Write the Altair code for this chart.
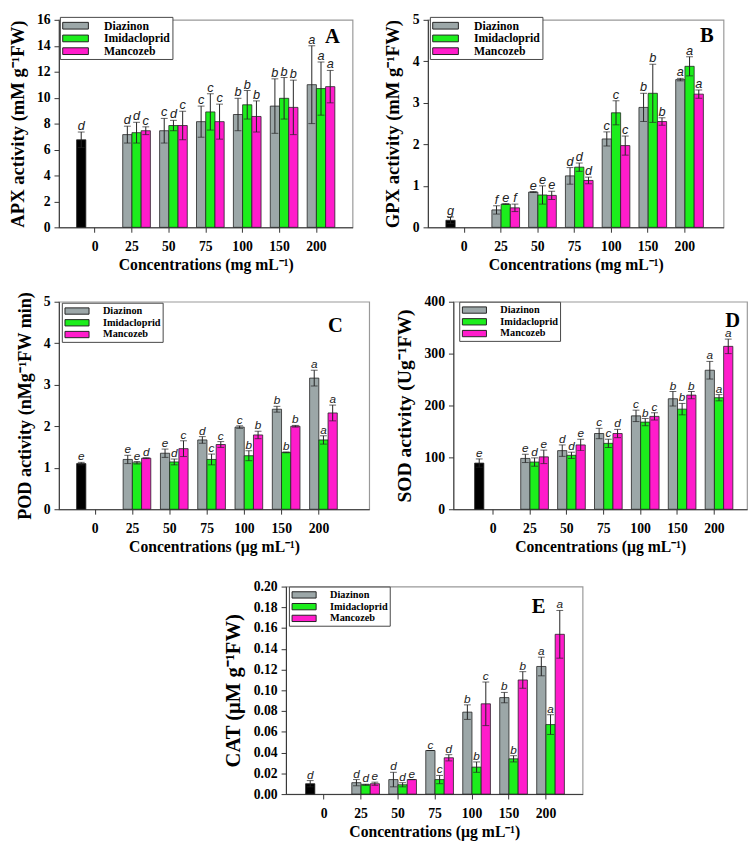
import altair as alt
import pandas as pd

categories = ["0", "25", "50", "75", "100", "150", "200"]
doses = ["25", "50", "75", "100", "150", "200"]
series = ["Control", "Diazinon", "Imidacloprid", "Mancozeb"]
legend_series = ["Diazinon", "Imidacloprid", "Mancozeb"]
colors = ["#000000", "#9ca7a8", "#1cee1c", "#ff1ccb"]

# ---- Panel A: APX ----
apx_control = [6.75, 0.6, "d"]
apx_diazinon = [7.15, 7.45, 8.15, 8.7, 9.35, 11.0]
apx_diazinon_err = [0.65, 0.95, 1.2, 1.25, 2.1, 3.0]
apx_diazinon_let = ["d", "c", "c", "b", "b", "a"]
apx_imidacloprid = [7.3, 7.85, 8.9, 9.45, 9.95, 10.7]
apx_imidacloprid_err = [0.8, 0.4, 1.4, 1.1, 1.6, 2.05]
apx_imidacloprid_let = ["d", "d", "c", "b", "b", "a"]
apx_mancozeb = [7.45, 7.85, 8.15, 8.55, 9.25, 10.85]
apx_mancozeb_err = [0.3, 1.1, 1.35, 1.2, 2.1, 1.25]
apx_mancozeb_let = ["c", "c", "c", "b", "b", "a"]

# ---- Panel B: GPX ----
gpx_control = [0.17, 0.08, "g"]
gpx_diazinon = [0.42, 0.85, 1.24, 2.13, 2.89, 3.56]
gpx_diazinon_err = [0.1, 0.01, 0.2, 0.17, 0.34, 0.03]
gpx_diazinon_let = ["f", "e", "d", "c", "b", "a"]
gpx_imidacloprid = [0.56, 0.78, 1.45, 2.76, 3.23, 3.88]
gpx_imidacloprid_err = [0.01, 0.22, 0.1, 0.29, 0.7, 0.23]
gpx_imidacloprid_let = ["e", "e", "d", "c", "b", "a"]
gpx_mancozeb = [0.47, 0.77, 1.13, 1.97, 2.55, 3.21]
gpx_mancozeb_err = [0.09, 0.1, 0.08, 0.23, 0.09, 0.1]
gpx_mancozeb_let = ["f", "e", "d", "c", "b", "a"]

# ---- Panel C: POD ----
pod_control = [1.1, 0.03, "e"]
pod_diazinon = [1.2, 1.35, 1.67, 1.98, 2.41, 3.16]
pod_diazinon_err = [0.1, 0.1, 0.08, 0.03, 0.07, 0.19]
pod_diazinon_let = ["e", "e", "d", "c", "b", "a"]
pod_imidacloprid = [1.12, 1.14, 1.2, 1.29, 1.37, 1.67]
pod_imidacloprid_err = [0.03, 0.07, 0.13, 0.12, 0.01, 0.1]
pod_imidacloprid_let = ["e", "d", "c", "b", "b", "a"]
pod_mancozeb = [1.23, 1.46, 1.56, 1.79, 2.0, 2.32]
pod_mancozeb_err = [0.01, 0.19, 0.07, 0.09, 0.02, 0.19]
pod_mancozeb_let = ["d", "c", "c", "b", "b", "a"]

# ---- Panel D: SOD ----
sod_control = [89, 8, "e"]
sod_diazinon = [98, 113, 146, 180, 213, 268]
sod_diazinon_err = [8, 11, 10, 11, 14, 17]
sod_diazinon_let = ["e", "d", "c", "c", "b", "a"]
sod_imidacloprid = [91, 104, 127, 168, 193, 215]
sod_imidacloprid_err = [8, 6, 8, 7, 11, 6]
sod_imidacloprid_let = ["d", "d", "c", "b", "b", "a"]
sod_mancozeb = [101, 124, 146, 179, 220, 314]
sod_mancozeb_err = [13, 11, 8, 7, 7, 14]
sod_mancozeb_let = ["e", "e", "d", "c", "b", "a"]

# ---- Panel E: CAT ----
cat_control = [0.010, 0.003, "d"]
cat_diazinon = [0.011, 0.014, 0.042, 0.079, 0.093, 0.123]
cat_diazinon_err = [0.003, 0.007, 0.0, 0.007, 0.005, 0.009]
cat_diazinon_let = ["d", "d", "c", "b", "b", "a"]
cat_imidacloprid = [0.009, 0.009, 0.014, 0.026, 0.034, 0.067]
cat_imidacloprid_err = [0.0005, 0.002, 0.004, 0.005, 0.003, 0.0095]
cat_imidacloprid_let = ["d", "d", "c", "b", "b", "a"]
cat_mancozeb = [0.010, 0.014, 0.035, 0.087, 0.110, 0.154]
cat_mancozeb_err = [0.0015, 0.0, 0.003, 0.021, 0.008, 0.023]
cat_mancozeb_let = ["e", "e", "d", "c", "b", "a"]

SERIF = "Liberation Serif"
SANS = "Liberation Sans"
SWATCH = "M-2.1,-0.55L2.1,-0.55L2.1,0.55L-2.1,0.55Z"


def build_df(ctrl, groups):
    rows = [dict(conc="0", series="Control", value=ctrl[0], err=ctrl[1], letter=ctrl[2])]
    for name, (vals, errs, lets) in zip(legend_series, groups):
        for c, v, e, l in zip(doses, vals, errs, lets):
            rows.append(dict(conc=c, series=name, value=v, err=e, letter=l))
    df = pd.DataFrame(rows)
    df["lo"] = df["value"] - df["err"]
    df["hi"] = df["value"] + df["err"]
    return df


def panel(df, s):
    x = alt.X(
        "conc:N", sort=categories,
        scale=alt.Scale(domain=categories, paddingInner=0, paddingOuter=s["po"], align=s["align"]),
        axis=alt.Axis(title=s["xtitle"], labelAngle=0, labelFont=SERIF, labelFontWeight="bold",
                      labelFontSize=14, labelColor="black", labelPadding=8, tickSize=5,
                      tickColor="#333", domainColor="#333", titleFont=SERIF, titleFontWeight="bold",
                      titleFontSize=16, titlePadding=3, titleColor="black"),
    )
    xo = alt.XOffset("series:N", sort=series,
                     scale=alt.Scale(domain=series, paddingInner=0, paddingOuter=0))
    ysc = alt.Scale(domain=[0, s["ymax"]], nice=False)
    yaxis = alt.Axis(title=s["ytitle"], values=s["yvals"], format=s["yfmt"], grid=False,
                     labelFont=SERIF, labelFontWeight="bold", labelFontSize=14, labelColor="black",
                     labelPadding=4, tickSize=5, tickColor="#333", domainColor="#333",
                     titleFont=SERIF, titleFontWeight="bold", titleFontSize=s["ytfs"],
                     titleColor="black", titlePadding=s["ytp"])

    def Y(field):
        return alt.Y(field, scale=ysc, axis=yaxis, title=s["ytitle"])

    base = alt.Chart(df).encode(x=x, xOffset=xo)
    bars = base.mark_bar(stroke="#222", strokeWidth=0.8).encode(
        y=Y("value:Q"),
        color=alt.Color("series:N", scale=alt.Scale(domain=series, range=colors),
                        legend=alt.Legend(values=legend_series, title=None, orient="none",
                                          legendX=s["legX"], legendY=s["legY"],
                                          direction="vertical", symbolType=SWATCH,
                                          symbolSize=s["symsize"], symbolStrokeColor="#222",
                                          symbolStrokeWidth=1, symbolOpacity=1,
                                          symbolOffset=7, labelOffset=s["laboff"],
                                          labelFont=SERIF, labelFontWeight="bold",
                                          labelFontSize=s["legfs"], labelColor="black",
                                          strokeColor="#444", fillColor="white",
                                          padding=2, rowPadding=0)),
    )
    rules = base.mark_rule(color="#222", strokeWidth=1).encode(y=Y("lo:Q"), y2="hi:Q")
    cap_hi = base.mark_tick(color="#222", thickness=1, size=7).encode(y=Y("hi:Q"))
    cap_lo = base.mark_tick(color="#222", thickness=1, size=7).encode(y=Y("lo:Q"))
    letters = base.mark_text(font=SANS, fontStyle="italic", fontSize=s["letfs"],
                             baseline="alphabetic", dy=-2, color="#222").encode(
        y=Y("hi:Q"), text="letter:N")
    tag = alt.Chart(pd.DataFrame({"tag": [s["tag"]]})).mark_text(
        font=SERIF, fontWeight="bold", fontSize=21, align="right", baseline="top",
        color="black").encode(x=alt.value(s["width"] - s["tagr"]), y=alt.value(s["tagt"]),
                              text="tag:N")
    return alt.layer(bars, rules, cap_hi, cap_lo, letters, tag).properties(
        width=s["width"], height=s["height"])


def spacer(w):
    return alt.Chart(pd.DataFrame({"s": [0]})).mark_point(opacity=0, size=0).encode(
        x=alt.X("s:Q", axis=None), y=alt.Y("s:Q", axis=None)
    ).properties(width=w, height=10, view=alt.ViewBackground(strokeOpacity=0))


mg = "Concentrations (mg mL\u207b\u00b9)"
ug = "Concentrations (\u00b5g mL\u207b\u00b9)"

pA = panel(build_df(apx_control, [(apx_diazinon, apx_diazinon_err, apx_diazinon_let),
                                  (apx_imidacloprid, apx_imidacloprid_err, apx_imidacloprid_let),
                                  (apx_mancozeb, apx_mancozeb_err, apx_mancozeb_let)]),
           dict(po=0.48, align=0.5, xtitle=mg, ymax=16, yvals=list(range(0, 17, 2)), yfmt="d",
                ytitle="APX activity (mM g\u207b\u00b9FW)", ytfs=19, ytp=9, legX=1, legY=-3,
                symsize=156, laboff=22, legfs=12, letfs=13, tag="A", width=300, height=212,
                tagr=13, tagt=7))
pB = panel(build_df(gpx_control, [(gpx_diazinon, gpx_diazinon_err, gpx_diazinon_let),
                                  (gpx_imidacloprid, gpx_imidacloprid_err, gpx_imidacloprid_let),
                                  (gpx_mancozeb, gpx_mancozeb_err, gpx_mancozeb_let)]),
           dict(po=0.52, align=0.47, xtitle=mg, ymax=5, yvals=[0, 1, 2, 3, 4, 5], yfmt="d",
                ytitle="GPX activity (mM g\u207b\u00b9FW)", ytfs=19, ytp=10, legX=2, legY=-3,
                symsize=156, laboff=22, legfs=12, letfs=13, tag="B", width=302, height=212,
                tagr=10, tagt=6))
pC = panel(build_df(pod_control, [(pod_diazinon, pod_diazinon_err, pod_diazinon_let),
                                  (pod_imidacloprid, pod_imidacloprid_err, pod_imidacloprid_let),
                                  (pod_mancozeb, pod_mancozeb_err, pod_mancozeb_let)]),
           dict(po=0.66, align=0.36, xtitle=ug, ymax=5, yvals=[0, 1, 2, 3, 4, 5], yfmt="d",
                ytitle="POD activity (nMg\u207b\u00b9FW min)", ytfs=18.5, ytp=9, legX=3, legY=1,
                symsize=137, laboff=20, legfs=10.5, letfs=12, tag="C", width=317, height=212,
                tagr=27, tagt=14))
pD = panel(build_df(sod_control, [(sod_diazinon, sod_diazinon_err, sod_diazinon_let),
                                  (sod_imidacloprid, sod_imidacloprid_err, sod_imidacloprid_let),
                                  (sod_mancozeb, sod_mancozeb_err, sod_mancozeb_let)]),
           dict(po=0.48, align=0.6, xtitle=ug, ymax=400, yvals=[0, 100, 200, 300, 400], yfmt="d",
                ytitle="SOD activity (Ug\u207b\u00b9FW)", ytfs=20, ytp=10, legX=6, legY=0,
                symsize=137, laboff=20, legfs=10.5, letfs=12, tag="D", width=300, height=212,
                tagr=7, tagt=9))
pE = panel(build_df(cat_control, [(cat_diazinon, cat_diazinon_err, cat_diazinon_let),
                                  (cat_imidacloprid, cat_imidacloprid_err, cat_imidacloprid_let),
                                  (cat_mancozeb, cat_mancozeb_err, cat_mancozeb_let)]),
           dict(po=0.51, align=0.52, xtitle=ug, ymax=0.2,
                yvals=[round(0.02 * k, 2) for k in range(11)], yfmt=".2f",
                ytitle="CAT (\u00b5M g\u207b\u00b9FW)", ytfs=21, ytp=10, legX=3, legY=0,
                symsize=137, laboff=20, legfs=10.5, letfs=12, tag="E", width=303, height=212,
                tagr=38, tagt=10))

row1 = alt.concat(pA, pB, columns=2, spacing=30, align="none").resolve_scale(color="independent")
row2 = alt.concat(pC, pD, columns=2, spacing=24, align="none").resolve_scale(color="independent")
row3 = alt.concat(spacer(166), pE, columns=2, spacing=0, align="none").resolve_scale(
    color="independent")

upper = alt.concat(row1, row2, columns=1, spacing=17, align="none").resolve_scale(
    color="independent")

chart = alt.concat(upper, row3, columns=1, spacing=24, align="none").resolve_scale(
    color="independent").properties(
    padding={"left": 0, "top": -5, "right": 0, "bottom": 0}
).configure_view(stroke="#999", strokeWidth=1.2)

chart.save("out.html", embed_options={"renderer": "svg", "actions": False})
